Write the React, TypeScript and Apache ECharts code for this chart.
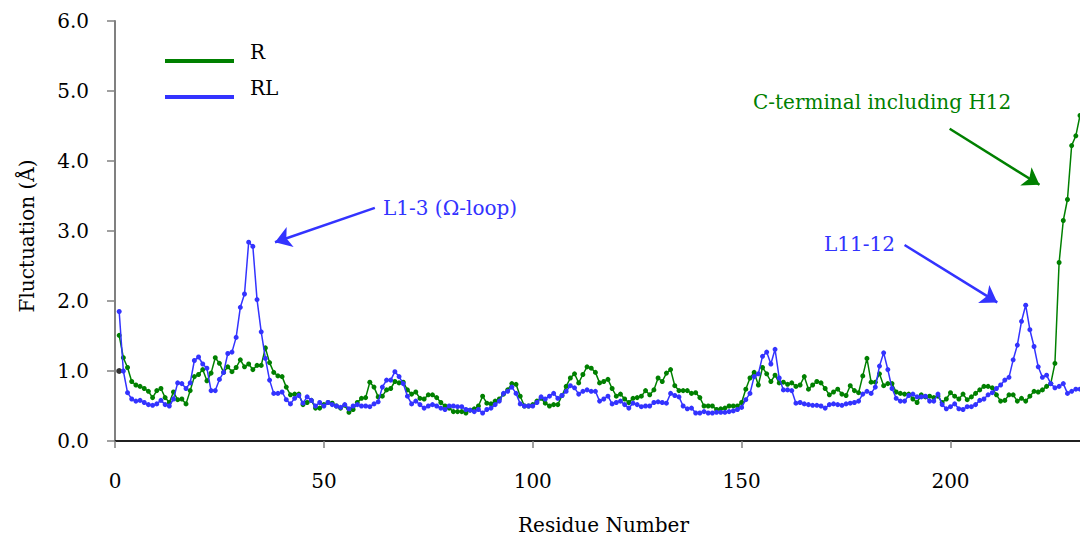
import React, { useEffect, useRef } from "react";
import * as echarts from "echarts";

const residues: number[] = Array.from({ length: 231 }, (_, i) => i + 1);

const fluctR: number[] = [
  1.51, 1.19, 1.05, 0.85, 0.80, 0.78, 0.75, 0.71, 0.62, 0.72,
  0.75, 0.62, 0.55, 0.70, 0.59, 0.60, 0.53, 0.72, 0.92, 0.95,
  1.02, 0.86, 0.97, 1.19, 1.11, 0.98, 1.06, 0.99, 1.05, 1.16,
  1.06, 1.10, 1.02, 1.08, 1.08, 1.33, 1.12, 0.98, 0.93, 0.92,
  0.77, 0.66, 0.67, 0.67, 0.52, 0.55, 0.58, 0.47, 0.47, 0.52,
  0.55, 0.54, 0.50, 0.47, 0.51, 0.41, 0.45, 0.55, 0.61, 0.62,
  0.84, 0.77, 0.63, 0.64, 0.73, 0.75, 0.85, 0.83, 0.84, 0.73,
  0.67, 0.70, 0.61, 0.60, 0.66, 0.66, 0.62, 0.55, 0.50, 0.47,
  0.42, 0.42, 0.42, 0.40, 0.44, 0.46, 0.50, 0.64, 0.54, 0.53,
  0.57, 0.60, 0.67, 0.73, 0.82, 0.81, 0.64, 0.50, 0.50, 0.52,
  0.57, 0.61, 0.54, 0.50, 0.52, 0.52, 0.65, 0.78, 0.90, 0.96,
  0.83, 0.95, 1.06, 1.04, 0.98, 0.83, 0.85, 0.88, 0.75, 0.64,
  0.67, 0.60, 0.55, 0.61, 0.62, 0.64, 0.72, 0.66, 0.73, 0.90,
  0.85, 0.97, 1.02, 0.79, 0.72, 0.72, 0.72, 0.68, 0.69, 0.62,
  0.50, 0.50, 0.50, 0.45, 0.46, 0.47, 0.50, 0.50, 0.50, 0.55,
  0.74, 0.90, 0.98, 0.80, 1.05, 0.96, 0.85, 0.94, 0.83, 0.84,
  0.81, 0.83, 0.78, 0.80, 0.92, 0.74, 0.80, 0.85, 0.83, 0.75,
  0.66, 0.70, 0.74, 0.67, 0.65, 0.79, 0.72, 0.69, 0.93, 1.18,
  0.84, 0.84, 0.96, 0.79, 0.82, 0.82, 0.70, 0.68, 0.67, 0.67,
  0.60, 0.55, 0.66, 0.63, 0.64, 0.62, 0.64, 0.55, 0.60, 0.69,
  0.64, 0.60, 0.67, 0.59, 0.63, 0.68, 0.73, 0.78, 0.78, 0.76,
  0.66, 0.57, 0.58, 0.66, 0.66, 0.57, 0.61, 0.57, 0.64, 0.71,
  0.70, 0.73, 0.78, 0.82, 1.11, 2.55, 3.15, 3.45, 4.22, 4.36,
  4.65,
];

const fluctRL: number[] = [
  1.85, 1.00, 0.69, 0.60, 0.57, 0.58, 0.55, 0.52, 0.51, 0.53,
  0.58, 0.52, 0.50, 0.60, 0.83, 0.82, 0.75, 0.83, 1.15, 1.20,
  1.10, 1.04, 0.72, 0.72, 0.88, 0.98, 1.25, 1.27, 1.48, 1.91,
  2.10, 2.84, 2.78, 2.02, 1.56, 1.18, 0.87, 0.68, 0.68, 0.70,
  0.59, 0.53, 0.61, 0.65, 0.54, 0.63, 0.58, 0.50, 0.55, 0.50,
  0.55, 0.52, 0.50, 0.48, 0.52, 0.46, 0.50, 0.52, 0.50, 0.50,
  0.49, 0.53, 0.56, 0.77, 0.87, 0.87, 0.99, 0.92, 0.82, 0.64,
  0.53, 0.57, 0.52, 0.47, 0.50, 0.52, 0.50, 0.47, 0.45, 0.50,
  0.50, 0.49, 0.49, 0.45, 0.44, 0.42, 0.45, 0.40, 0.45, 0.47,
  0.52, 0.57, 0.68, 0.71, 0.77, 0.68, 0.53, 0.50, 0.50, 0.50,
  0.55, 0.63, 0.60, 0.64, 0.68, 0.61, 0.65, 0.71, 0.79, 0.76,
  0.67, 0.71, 0.73, 0.71, 0.71, 0.57, 0.60, 0.64, 0.53, 0.55,
  0.57, 0.52, 0.47, 0.54, 0.52, 0.49, 0.50, 0.50, 0.55, 0.56,
  0.55, 0.54, 0.68, 0.65, 0.63, 0.50, 0.46, 0.47, 0.40, 0.40,
  0.42, 0.40, 0.40, 0.41, 0.41, 0.41, 0.42, 0.43, 0.45, 0.48,
  0.59, 0.68, 0.92, 0.96, 1.21, 1.27, 1.10, 1.31, 0.90, 0.73,
  0.73, 0.72, 0.54, 0.55, 0.53, 0.52, 0.51, 0.51, 0.50, 0.47,
  0.52, 0.53, 0.52, 0.51, 0.53, 0.54, 0.55, 0.57, 0.67, 0.71,
  0.68, 0.77, 1.07, 1.26, 1.02, 0.75, 0.61, 0.57, 0.57, 0.65,
  0.67, 0.63, 0.63, 0.64, 0.57, 0.57, 0.67, 0.52, 0.46, 0.49,
  0.53, 0.46, 0.45, 0.49, 0.49, 0.52, 0.58, 0.60, 0.66, 0.69,
  0.75, 0.80, 0.87, 0.91, 1.16, 1.37, 1.71, 1.94, 1.59, 1.35,
  1.06, 0.91, 0.94, 0.82, 0.76, 0.78, 0.82, 0.68, 0.71, 0.74,
  0.74,
];

const yTicks: number[] = [0, 1, 2, 3, 4, 5, 6];
const seriesNames: string[] = ["R", "RL"];
const extraPoint: number[][] = [[1, 1.0]];

// annotation arrows in data coordinates: [fromX, fromY, toX, toY]
const arrowLoop: number[] = [62.2, 3.33, 38.3, 2.84];
const arrowL1112: number[] = [189.0, 2.8, 211.2, 1.98];
const arrowCterm: number[] = [199.8, 4.46, 221.3, 3.66];

const GREEN = "#008000";
const BLUE = "#3333ff";
const FONT = "DejaVu Serif";

function arrowLines(list: number[][], color: string) {
  return {
    silent: true,
    symbol: ["none", "arrow"],
    symbolSize: 16,
    label: { show: false },
    emphasis: { disabled: true },
    itemStyle: { color },
    lineStyle: { color, width: 2.5, type: "solid" },
    data: list.map((a) => [{ coord: [a[0], a[1]] }, { coord: [a[2], a[3]] }]),
  };
}

export default function App() {
  const ref = useRef<HTMLDivElement>(null);
  useEffect(() => {
    if (!ref.current) return;
    const chart = echarts.init(ref.current, null, { renderer: "svg" });
    const dataR = residues.map((r, i) => [r, fluctR[i]]);
    const dataRL = residues.map((r, i) => [r, fluctRL[i]]);
    chart.setOption({
      animation: false,
      backgroundColor: "#ffffff",
      textStyle: { fontFamily: FONT },
      grid: { left: 115, right: 0, top: 21, bottom: 95, containLabel: false },
      legend: {
        data: seriesNames,
        orient: "vertical",
        left: 160,
        top: 36,
        itemWidth: 69,
        itemHeight: 22,
        itemGap: 14,
        icon: "path://M0,0M0,18L69,18L69,22L0,22Z",
        textStyle: {
          fontFamily: FONT,
          fontSize: 20,
          color: "#000",
          padding: [0, 0, 0, 11],
        },
      },
      xAxis: [
        {
          type: "value",
          min: 0,
          max: 231,
          interval: 50,
          name: "Residue Number",
          nameLocation: "middle",
          nameGap: 74,
          nameTextStyle: {
            fontFamily: FONT,
            fontSize: 20,
            color: "#000",
            padding: [0, 0, 0, 12],
          },
          axisLine: { show: true, onZero: false, lineStyle: { color: "#808080", width: 2 } },
          axisTick: { show: true, inside: false, length: 7, lineStyle: { color: "#808080", width: 1.5 } },
          axisLabel: {
            fontFamily: FONT,
            fontSize: 20,
            color: "#000",
            margin: 30,
            showMaxLabel: false,
          },
          splitLine: { show: false },
        },
        {
          type: "value",
          position: "top",
          min: 0,
          max: 231,
          axisLine: { show: true, lineStyle: { color: "#000", width: 1.5 } },
          axisTick: { show: false },
          axisLabel: { show: false },
          splitLine: { show: false },
        },
      ],
      yAxis: {
        type: "value",
        min: yTicks[0],
        max: yTicks[yTicks.length - 1],
        interval: 1,
        name: "Fluctuation (Å)",
        nameLocation: "middle",
        nameGap: 78,
        nameTextStyle: {
          fontFamily: FONT,
          fontSize: 20,
          color: "#000",
          padding: [0, 10, 0, 0],
        },
        axisLine: { show: true, lineStyle: { color: "#808080", width: 2 } },
        axisTick: { show: true, inside: false, length: 8, lineStyle: { color: "#808080", width: 1.5 } },
        axisLabel: {
          fontFamily: FONT,
          fontSize: 20,
          color: "#000",
          margin: 26,
          formatter: (v: number) => v.toFixed(1),
        },
        splitLine: { show: false },
      },
      series: [
        {
          name: seriesNames[0],
          type: "line",
          data: dataR,
          symbol: "circle",
          symbolSize: 5,
          itemStyle: { color: GREEN },
          lineStyle: { color: GREEN, width: 1.5 },
          z: 2,
          markLine: arrowLines([arrowCterm], GREEN),
        },
        {
          name: seriesNames[1],
          type: "line",
          data: dataRL,
          symbol: "circle",
          symbolSize: 5,
          itemStyle: { color: BLUE },
          lineStyle: { color: BLUE, width: 1.5 },
          z: 3,
          markLine: arrowLines([arrowLoop, arrowL1112], BLUE),
        },
        {
          name: "start",
          type: "scatter",
          data: extraPoint,
          symbolSize: 6,
          itemStyle: { color: "#000" },
          z: 1,
        },
      ],
      graphic: [
        {
          type: "text",
          left: 383,
          top: 198,
          style: { text: "L1-3 (Ω-loop)", fill: BLUE, fontFamily: FONT, fontSize: 20 },
        },
        {
          type: "text",
          left: 824,
          top: 234,
          style: { text: "L11-12", fill: BLUE, fontFamily: FONT, fontSize: 20 },
        },
        {
          type: "text",
          left: 753,
          top: 92,
          style: { text: "C-terminal including H12", fill: GREEN, fontFamily: FONT, fontSize: 20 },
        },
      ],
    });
    return () => chart.dispose();
  }, []);
  return (
    <div
      ref={ref}
      style={{ position: "fixed", left: 0, top: 0, width: 1080, height: 540 }}
    />
  );
}
